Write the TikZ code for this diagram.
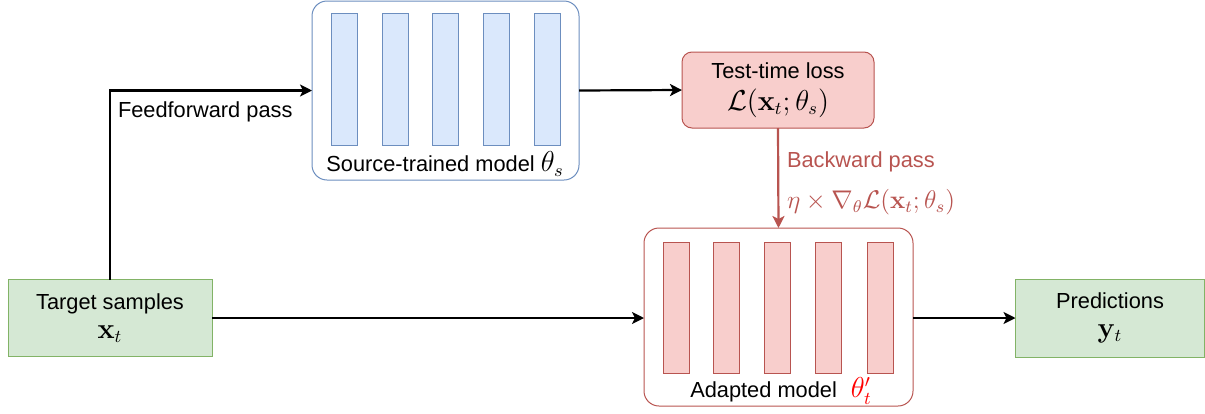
\documentclass[tikz,border=0pt]{standalone}
\usepackage[no-math]{fontspec}
\setmainfont{Liberation Sans}
\usepackage{amsmath}
\usepackage{amssymb}
\usepackage{graphicx}
\usetikzlibrary{arrows.meta}

\definecolor{grnfill}{HTML}{D5E8D4}
\definecolor{grnline}{HTML}{82B366}
\definecolor{bluefill}{HTML}{DAE8FC}
\definecolor{blueline}{HTML}{6C8EBF}
\definecolor{redfill}{HTML}{F8CECC}
\definecolor{redline}{HTML}{B85450}

\newcommand{\mth}[1]{{\fontsize{13.5}{16}\selectfont$#1$}}

\begin{document}
\begin{tikzpicture}[x=0.5pt, y=-0.5pt, font=\fontsize{10.9}{14.5}\selectfont,
				   every node/.style={inner sep=0pt, outer sep=0pt},
				   iobox/.style={draw=grnline, fill=grnfill, line width=0.5pt, align=center},
				   srcbox/.style={draw=blueline, line width=0.5pt, rounded corners=7.5pt,
				                  minimum width=133.5pt, minimum height=89.5pt},
				   adpbox/.style={draw=redline, line width=0.5pt, rounded corners=7.5pt,
				                  minimum width=134.5pt, minimum height=89pt},
				   srcbar/.style={draw=blueline, fill=bluefill, line width=0.5pt,
				                  minimum width=13pt, minimum height=66pt},
				   adpbar/.style={draw=redline, fill=redfill, line width=0.5pt,
				                  minimum width=13pt, minimum height=65.5pt},
				   flow/.style={-{Stealth[length=6pt, width=6pt, inset=1.5pt]}, line width=1.1pt}]
\useasboundingbox (0,0) rectangle (1205,413);

% inputs and outputs
\node[iobox, minimum width=102pt, minimum height=38.5pt] (tgt) at (110,318)
	{Target samples\\ \mth{\mathbf{x}_t}};
\node[iobox, minimum width=94.5pt, minimum height=39pt] (pred) at (1110,318)
	{Predictions\\ \mth{\mathbf{y}_t}};

% source-trained model
\node[srcbox] (src) at (445.5,90.5) {};
\node[srcbar] (s1) at (344,79) {};
\node[srcbar] (s2) at (395,79) {};
\node[srcbar] (s3) at (445,79) {};
\node[srcbar] (s4) at (496,79) {};
\node[srcbar] (s5) at (547,79) {};
\node (srclbl) at (445,164) {Source-trained model \mth{\theta_s}};

% test-time loss
\node[draw=redline, fill=redfill, line width=0.5pt, rounded corners=5pt, align=center,
	  minimum width=96pt, minimum height=38pt, font=\fontsize{10.9}{16}\selectfont] (loss) at (778,90)
	{Test-time loss\\ \mth{\mathcal{L}(\mathbf{x}_t;\theta_s)}};

% adapted model
\node[adpbox] (adp) at (778.5,317) {};
\node[adpbar] (a1) at (676,307.5) {};
\node[adpbar] (a2) at (726,307.5) {};
\node[adpbar] (a3) at (777,307.5) {};
\node[adpbar] (a4) at (828,307.5) {};
\node[adpbar] (a5) at (880,307.5) {};
\node (adplbl) at (781,391) {Adapted model\hspace{7pt}\textcolor{red}{\mth{\theta'_t}}};

% connectors
\draw[flow] (tgt.north) |- (src.west);
\node[anchor=west] (ffl) at (118,112) {Feedforward pass};
\draw[flow] (src.east) -- (loss.west);
\draw[flow, redline] (loss.south) -- (adp.north);
\node[anchor=west, text=redline] (bwd) at (787,162) {Backward pass};
\node[anchor=west, text=redline] (grad) at (787,202)
	{\scalebox{1.065}{\fontsize{12}{16}\selectfont$\eta\times\nabla_{\theta}\mathcal{L}(\mathbf{x}_t;\theta_s)$}};
\draw[flow] (tgt.east) -- (adp.west |- tgt.east);
\draw[flow] (adp.east |- pred.west) -- (pred.west);
\end{tikzpicture}
\end{document}
